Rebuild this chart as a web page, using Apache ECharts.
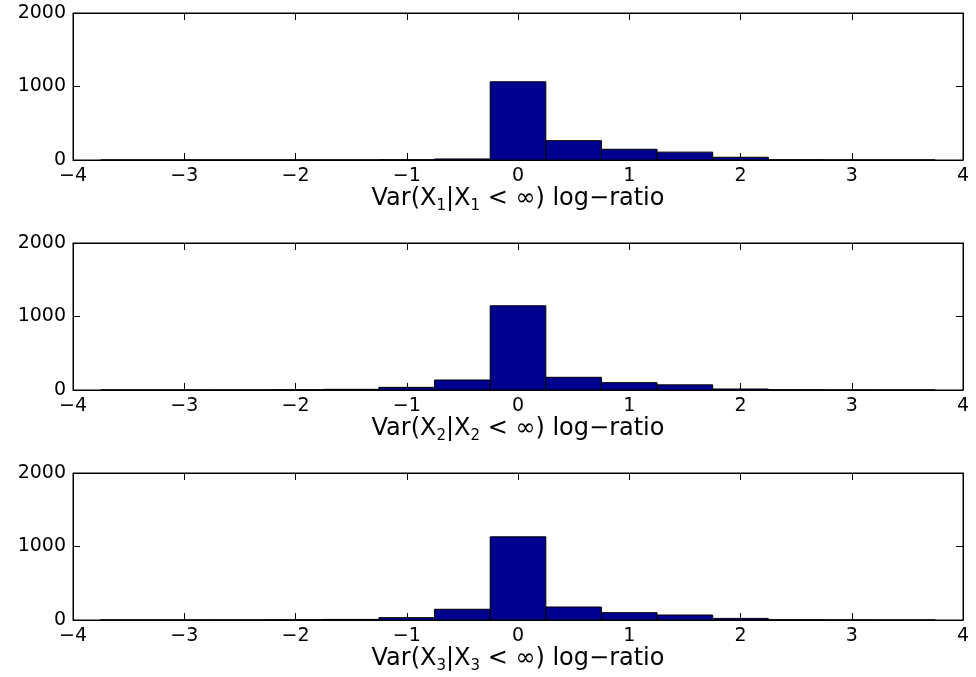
<!DOCTYPE html>
<html>
<head>
<meta charset="utf-8">
<script src="https://cdn.jsdelivr.net/npm/echarts@6/dist/echarts.min.js"></script>
<style>
  html, body { margin: 0; padding: 0; background: #fff; }
  #main { width: 976px; height: 677px; }
</style>
</head>
<body>
<div id="main"></div>
<script>
// histogram bin centres (width 0.5)
var bins = [-3.5, -3, -2.5, -2, -1.5, -1, -0.5, 0, 0.5, 1, 1.5, 2, 2.5, 3, 3.5];
var binWidth = 0.5;
// counts
var counts1 = [0, 0, 0, 0, 0, 3, 14, 1064, 263, 146, 107, 37, 3, 0, 0];
var counts2 = [1, 1, 1, 2, 9, 36, 136, 1146, 173, 100, 70, 14, 3, 1, 0];
var counts3 = [1, 1, 1, 2, 8, 32, 146, 1132, 177, 100, 68, 22, 3, 1, 0];
var subs = ['1', '2', '3'];

var font = "'DejaVu Sans', 'Liberation Sans', Arial, sans-serif";
var tops = [13, 243, 473];   // grid tops in px
var plotH = 147;

function minus(v) { return v < 0 ? '\u2212' + (-v) : String(v); }

function renderBar(params, api) {
  var c = api.value(0), n = api.value(1);
  var p0 = api.coord([c - binWidth / 2, n]);
  var p1 = api.coord([c + binWidth / 2, 0]);
  return {
    type: 'rect',
    shape: { x: p0[0], y: p0[1], width: p1[0] - p0[0], height: p1[1] - p0[1] },
    style: { fill: '#00008f', stroke: '#000', lineWidth: 1 }
  };
}

var grids = [], xAxes = [], yAxes = [], series = [];
[counts1, counts2, counts3].forEach(function (counts, i) {
  grids.push({ left: 73, right: 13, top: tops[i], height: plotH,
               show: true, borderColor: '#000', borderWidth: 1 });
  // bottom x axis with labels and name
  xAxes.push({
    type: 'value', gridIndex: i, min: -4, max: 4, interval: 1, position: 'bottom',
    axisLine: { onZero: false, lineStyle: { color: '#000', width: 1 } },
    axisTick: { inside: true, length: 7, lineStyle: { color: '#000' } },
    axisLabel: { color: '#000', fontSize: 19, fontFamily: font, margin: 7, formatter: minus },
    splitLine: { show: false },
    name: 'Var(X{s|' + subs[i] + '}|X{s|' + subs[i] + '} < ∞) log\u2212ratio',
    nameLocation: 'middle', nameGap: 35,
    nameTextStyle: {
      color: '#000', fontSize: 24, fontFamily: font, verticalAlign: 'middle',
      rich: { s: { fontSize: 15, fontFamily: font, color: '#000', padding: [14, 0, 0, 0] } }
    }
  });
  // mirrored top axis (ticks only)
  xAxes.push({
    type: 'value', gridIndex: i, min: -4, max: 4, interval: 1, position: 'top',
    axisLine: { onZero: false, lineStyle: { color: '#000' } },
    axisTick: { inside: true, length: 7, lineStyle: { color: '#000' } },
    axisLabel: { show: false }, splitLine: { show: false }
  });
  yAxes.push({
    type: 'value', gridIndex: i, min: 0, max: 2000, interval: 1000, position: 'left',
    axisLine: { show: true, onZero: false, lineStyle: { color: '#000' } },
    axisTick: { show: true, inside: true, length: 7, lineStyle: { color: '#000' } },
    axisLabel: { color: '#000', fontSize: 19, fontFamily: font, margin: 7,
                 formatter: function (v) { return String(v); } },
    splitLine: { show: false }
  });
  yAxes.push({
    type: 'value', gridIndex: i, min: 0, max: 2000, interval: 1000, position: 'right',
    axisLine: { show: true, onZero: false, lineStyle: { color: '#000' } },
    axisTick: { show: true, inside: true, length: 7, lineStyle: { color: '#000' } },
    axisLabel: { show: false }, splitLine: { show: false }
  });
  series.push({
    type: 'custom', xAxisIndex: i * 2, yAxisIndex: i * 2,
    renderItem: renderBar, clip: true,
    encode: { x: 0, y: 1 },
    data: bins.map(function (b, k) { return [b, counts[k]]; })
  });
});

var myChart = echarts.init(document.getElementById('main'));
myChart.setOption({
  animation: false,
  backgroundColor: '#fff',
  grid: grids,
  xAxis: xAxes,
  yAxis: yAxes,
  series: series
});
</script>
</body>
</html>
